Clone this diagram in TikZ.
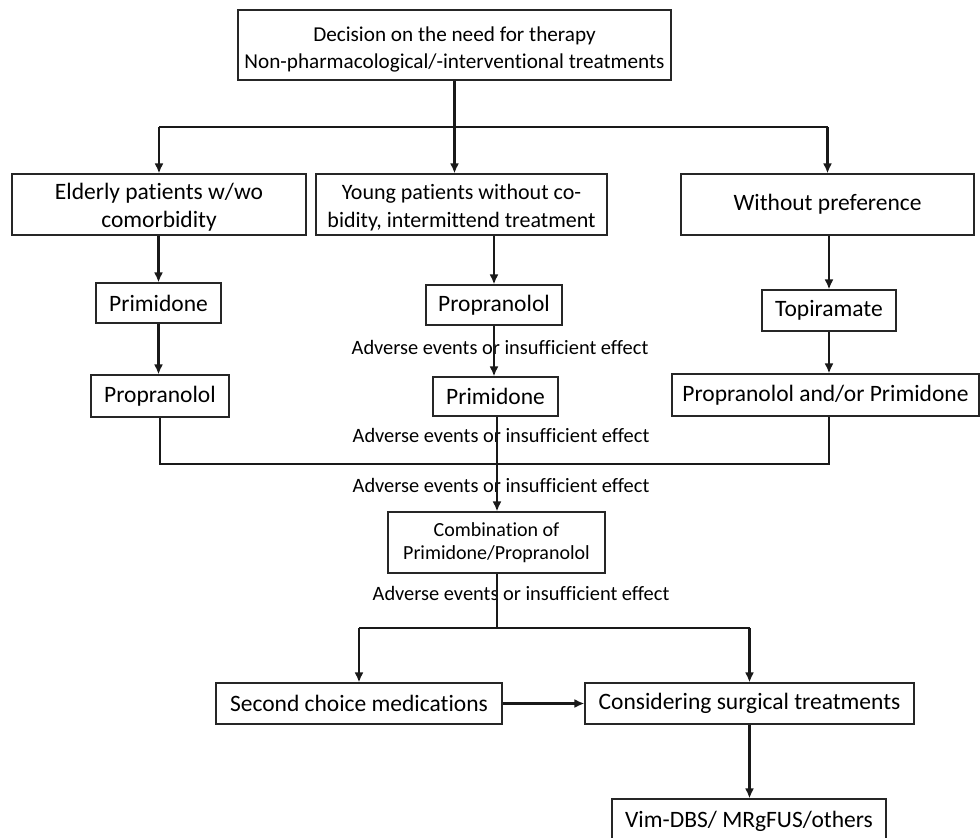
\documentclass[tikz,border=0pt]{standalone}
\usepackage{fontspec}
\setmainfont{Carlito}[Ligatures=NoCommon]
\usetikzlibrary{arrows.meta,calc}
\tikzset{%
    >={Latex[length=10pt,width=9pt]}, % solid arrow heads
    box/.style={draw=black!85,line width=1.1pt,inner sep=0pt,align=center,
        font=\fontsize{23.5}{28}\selectfont},%
    narrowbox/.style={box,font=\fontsize{21.2}{27.5}\selectfont},%
    smallbox/.style={box,font=\fontsize{20}{23}\selectfont},%
    note/.style={inner sep=0pt,font=\fontsize{20.4}{22}\selectfont},%
    link/.style={line width=2.6pt,black!90}%
}
\begin{document}
\begin{tikzpicture}[x=1pt,y=-1pt] % treatment flow chart

    \useasboundingbox (0,0) rectangle (980,838);

    % first level
    \node[narrowbox,minimum width=433pt,minimum height=70pt] (need) at (454.5,45)
        {\rule{0pt}{24pt}Decision on the need for therapy\\Non-pharmacological/-interventional treatments};

    % patient groups
    \node[box,minimum width=294pt,minimum height=61pt] (elderly) at (159,204.5)
        {\rule{0pt}{22pt}Elderly patients w/wo\\comorbidity};
    \node[narrowbox,font=\fontsize{22}{28}\selectfont,minimum width=291pt,minimum height=61pt]
        (young) at (461.5,204.5)
        {\rule{0pt}{22pt}Young patients without co-\\bidity, intermittend treatment};
    \node[box,minimum width=293pt,minimum height=61pt] (nopref) at (827.5,204.5)
        {Without preference};

    % first choice drugs
    \node[box,minimum width=125pt,minimum height=40pt] (primA) at (158.5,303) {Primidone};
    \node[box,minimum width=136pt,minimum height=40pt] (propB) at (494,305) {Propranolol};
    \node[box,minimum width=134pt,minimum height=41pt] (topi) at (829,310.5) {Topiramate};

    % second drugs
    \node[box,minimum width=138pt,minimum height=42pt] (propA) at (160,396) {Propranolol};
    \node[box,minimum width=125pt,minimum height=39pt] (primB) at (495.5,396.5) {Primidone};
    \node[box,minimum width=307pt,minimum height=42pt] (propprim) at (825.5,395)
        {Propranolol and/or Primidone};

    % combination
    \node[smallbox,minimum width=217pt,minimum height=61pt] (combi) at (496.5,542.5)
        {Combination of\\Primidone/Propranolol};

    % last steps
    \node[box,minimum width=286pt,minimum height=41pt] (second) at (359,703.5)
        {Second choice medications};
    \node[box,minimum width=329pt,minimum height=41pt] (surg) at (749.5,703.5)
        {Considering surgical treatments};
    \node[box,minimum width=274pt,minimum height=44pt] (vim) at (749,821)
        {Vim-DBS/ MRgFUS/others};

    % notes
    \node[note] (adv1) at (500,347) {Adverse events or insufficient effect};
    \node[note] (adv2) at (501,435) {Adverse events or insufficient effect};
    \node[note] (adv3) at (501,485) {Adverse events or insufficient effect};
    \node[note] (adv4) at (521,593) {Adverse events or insufficient effect};

    \coordinate (split) at (454.5,127);
    \coordinate (merge) at (497,464);
    \coordinate (fork) at (497,628);

    % top split
    \draw[link,->] (need.south) -- (need.south |- young.north);
    \draw[link] (elderly.north |- split) -- (nopref.north |- split);
    \draw[link,->] (elderly.north |- split) -- (elderly.north);
    \draw[link,->] (nopref.north |- split) -- (nopref.north);

    % columns
    \draw[link,->] (primA.north |- elderly.south) -- (primA.north);
    \draw[link,->] (primA.south) -- (primA.south |- propA.north);
    \draw[link,->] (propB.north |- young.south) -- (propB.north);
    \draw[link,->] (propB.south) -- (propB.south |- primB.north);
    \draw[link,->] (topi.north |- nopref.south) -- (topi.north);
    \draw[link,->] (topi.south) -- (topi.south |- propprim.north);

    % merge
    \draw[link] (propA.south) -- (propA.south |- merge) -- (topi.south |- merge)
        -- (topi.south |- propprim.south);
    \draw[link,->] (merge |- primB.south) -- (merge |- combi.north);

    % bottom fork
    \draw[link] (combi.south -| fork) -- (fork);
    \draw[link] (second.north |- fork) -- (surg.north |- fork);
    \draw[link,->] (second.north |- fork) -- (second.north);
    \draw[link,->] (surg.north |- fork) -- (surg.north);
    \draw[link,->] (second.east) -- (surg.west);
    \draw[link,->] (surg.south) -- (surg.south |- vim.north);

\end{tikzpicture}
\end{document}
